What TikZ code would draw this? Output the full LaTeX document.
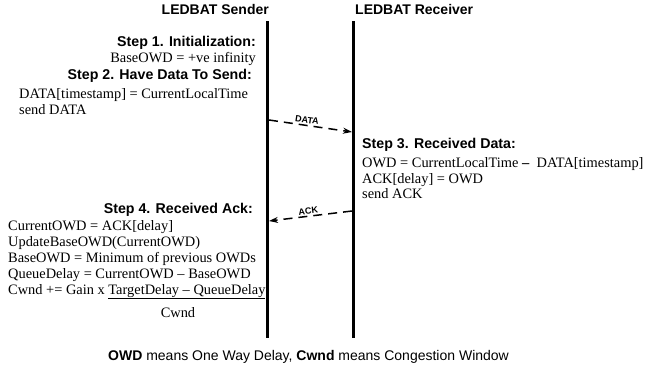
\documentclass[tikz,border=0pt]{standalone}
\usepackage{fontspec}
\setmainfont{Liberation Serif}
\setsansfont{Liberation Sans}
\usetikzlibrary{arrows.meta}
\begin{document}
\begin{tikzpicture}[x=1pt,y=-1pt,
  body/.style={font=\fontsize{14.4}{16}\selectfont, inner sep=0pt},
  head/.style={font=\fontsize{14.2}{16}\sffamily\bfseries, inner sep=0pt},
  title/.style={font=\fontsize{14}{16}\sffamily\bfseries, inner sep=0pt},
  lifeline/.style={line width=3pt},
  msg/.style={line width=1.5pt, dash pattern=on 9pt off 6pt,
    -{Stealth[length=9pt,width=6pt]}},
  msglabel/.style={font=\fontsize{9}{10}\sffamily\bfseries, inner sep=1.5pt, sloped}]
\useasboundingbox (0,0) rectangle (649,372);

% lifelines
\coordinate (sTop) at (267.5,21);
\coordinate (sBot) at (267.5,338);
\coordinate (rTop) at (353,21);
\coordinate (rBot) at (353,338);
\draw[lifeline] (sTop) -- (sBot);
\draw[lifeline] (rTop) -- (rBot);

\node[title, anchor=base east] (sTitle) at (269,15) {LEDBAT Sender};
\node[title, anchor=base west] (rTitle) at (355,15) {LEDBAT Receiver};

% step 1
\node[head, anchor=base east] (s1h) at (256,46) {Step 1. Initialization:};
\node[body, anchor=base east] (s1a) at (256,62) {BaseOWD = +ve infinity};

% step 2
\node[head, anchor=base east] (s2h) at (252,79) {Step 2. Have Data To Send:};
\node[body, anchor=base west] (s2a) at (19,98) {DATA[timestamp] = CurrentLocalTime};
\node[body, anchor=base west] (s2b) at (19,114) {send DATA};

% DATA message
\coordinate (dFrom) at (269,120);
\coordinate (dTo) at (352,132);
\draw[msg] (dFrom) -- node[msglabel, pos=0.45, above] (dLbl) {DATA} (dTo);

% step 3
\node[head, anchor=base west] (s3h) at (362,148) {Step 3. Received Data:};
\node[body, anchor=base west] (s3a) at (362,167) {OWD = CurrentLocalTime \textbf{–}\ \ DATA[timestamp]};
\node[body, anchor=base west] (s3b) at (362,183) {ACK[delay] = OWD};
\node[body, anchor=base west] (s3c) at (362,198) {send ACK};

% ACK message
\coordinate (aFrom) at (352,211);
\coordinate (aTo) at (269,221);
\draw[msg] (aFrom) -- node[msglabel, pos=0.52, above] (aLbl) {ACK} (aTo);

% step 4
\node[head, anchor=base east] (s4h) at (253,213) {Step 4. Received Ack:};
\node[body, anchor=base west] (s4a) at (8,230) {CurrentOWD = ACK[delay]};
\node[body, anchor=base west] (s4b) at (8,246) {UpdateBaseOWD(CurrentOWD)};
\node[body, anchor=base west] (s4c) at (8,262) {BaseOWD = Minimum of previous OWDs};
\node[body, anchor=base west] (s4d) at (8,278) {QueueDelay = CurrentOWD -- BaseOWD};
\node[body, anchor=base west] (s4e) at (8,294) {Cwnd += Gain x \underline{TargetDelay -- QueueDelay}};
\node[body, anchor=base] (s4f) at (178,317) {Cwnd};

% footnote
\node[font=\fontsize{14}{16}\sffamily, inner sep=0pt, anchor=base west] (note) at (108,360)
  {\textbf{OWD} means One Way Delay, \textbf{Cwnd} means Congestion Window};
\end{tikzpicture}
\end{document}
